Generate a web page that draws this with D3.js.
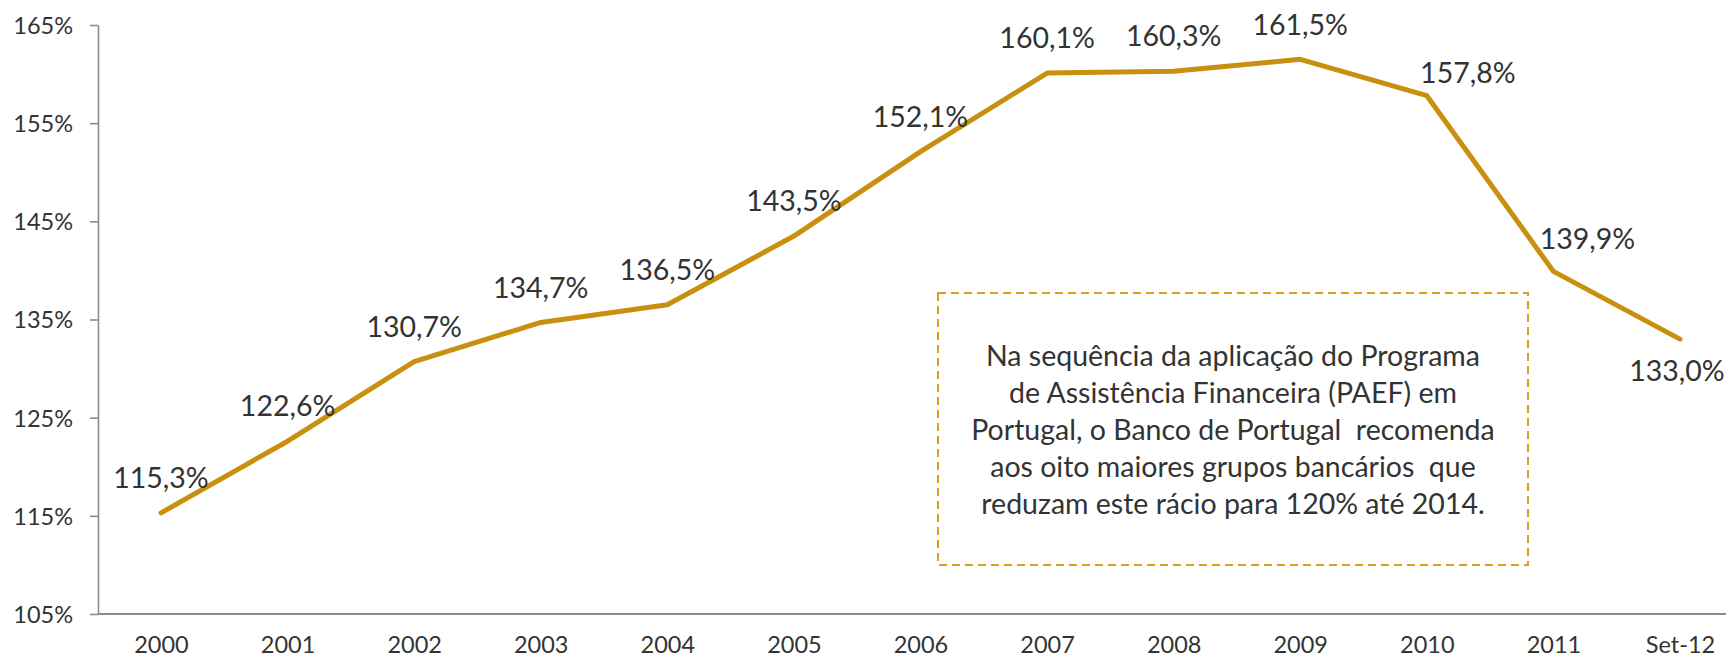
<!DOCTYPE html>
<html>
<head>
<meta charset="utf-8">
<script src="https://cdn.jsdelivr.net/npm/d3@7/dist/d3.min.js"></script>
<style>
  html, body { margin: 0; padding: 0; background: #fff; }
  svg { display: block; }
  text { font-family: Lato, "Open Sans", sans-serif; fill: #333; }
</style>
</head>
<body>
<svg id="chart" width="1726" height="659"></svg>
<script>
// ---- data ----
const categories = ["2000","2001","2002","2003","2004","2005","2006","2007","2008","2009","2010","2011","Set-12"];
const ratio = [115.3, 122.6, 130.7, 134.7, 136.5, 143.5, 152.1, 160.1, 160.3, 161.5, 157.8, 139.9, 133.0];
const yTicks = [105, 115, 125, 135, 145, 155, 165];
const noteLines = [
  "Na sequência da aplicação do Programa",
  "de Assistência Financeira (PAEF) em",
  "Portugal, o Banco de Portugal  recomenda",
  "aos oito maiores grupos bancários  que",
  "reduzam este rácio para 120% até 2014."
];

// ---- layout ----
const W = 1726, H = 659;
const axisX = 98, axisBottom = 614, axisTop = 25;
const lineColor = "#C8900E";
const axisColor = "#8c8c8c";
// label placement tweaks (dx, dy of label centre relative to point)
const labelShift = { "2010": [41, -23], "2011": [34, -33], "Set-12": [-3, 32] };

const svg = d3.select("#chart");

const x = d3.scalePoint().domain(categories).range([161, 1680]);
const y = d3.scaleLinear().domain([105, 165]).range([axisBottom, axisTop]);

// y axis
const yAxis = d3.axisLeft(y).tickValues(yTicks).tickSize(8).tickSizeOuter(0)
  .tickFormat(d => d + "%");
const gy = svg.append("g").attr("transform", `translate(${axisX},0)`).call(yAxis);
gy.select(".domain").attr("stroke", axisColor).attr("stroke-width", 1.6);
gy.selectAll(".tick line").attr("stroke", axisColor).attr("stroke-width", 1.6);
gy.selectAll(".tick text").attr("x", -25).attr("dy", "0.36em")
  .style("font-size", "23.5px").attr("fill", "#333");

// x axis
svg.append("line")
  .attr("x1", axisX).attr("x2", W)
  .attr("y1", axisBottom).attr("y2", axisBottom)
  .attr("stroke", axisColor).attr("stroke-width", 2);
const xAxis = d3.axisBottom(x).tickSize(0);
const gx = svg.append("g").attr("transform", `translate(0,${axisBottom})`).call(xAxis);
gx.select(".domain").remove();
gx.selectAll(".tick text").attr("y", 31).attr("dy", "0.36em")
  .style("font-size", "23.5px").attr("fill", "#333");

// line
const line = d3.line().x((d, i) => x(categories[i])).y(d => y(d));
svg.append("path").datum(ratio)
  .attr("d", line)
  .attr("fill", "none")
  .attr("stroke", lineColor)
  .attr("stroke-width", 5)
  .attr("stroke-linejoin", "round")
  .attr("stroke-linecap", "round");

// data labels
const fmt = v => v.toFixed(1).replace(".", ",") + "%";
svg.append("g").selectAll("text").data(ratio).join("text")
  .attr("x", (d, i) => x(categories[i]) + (labelShift[categories[i]] ? labelShift[categories[i]][0] : 0))
  .attr("y", (d, i) => y(d) + (labelShift[categories[i]] ? labelShift[categories[i]][1] : -35))
  .attr("dy", "0.36em")
  .attr("text-anchor", "middle")
  .style("font-size", "28.5px")
  .text(fmt);

// annotation box
const box = { x: 938, y: 293, w: 590, h: 272 };
svg.append("rect")
  .attr("x", box.x).attr("y", box.y).attr("width", box.w).attr("height", box.h)
  .attr("fill", "none").attr("stroke", "#D6A025").attr("stroke-width", 2)
  .attr("stroke-dasharray", "8,5");
svg.append("g").selectAll("text").data(noteLines).join("text")
  .attr("x", box.x + box.w / 2)
  .attr("y", (d, i) => 356 + i * 37)
  .attr("dy", "0.36em")
  .attr("text-anchor", "middle")
  .style("font-size", "28.5px")
  .style("white-space", "pre")
  .text(d => d);
</script>
</body>
</html>
